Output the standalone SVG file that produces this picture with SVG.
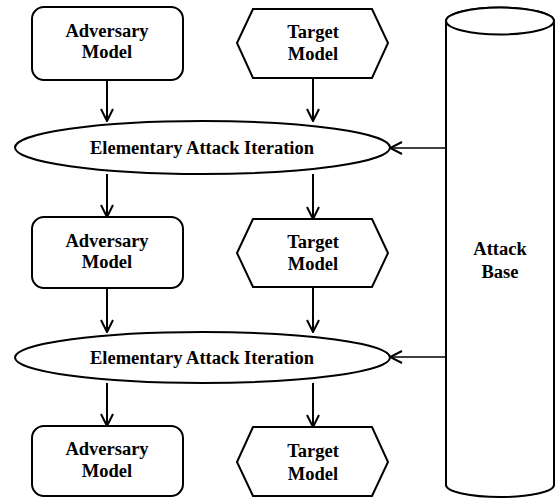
<svg xmlns="http://www.w3.org/2000/svg" width="556" height="498" viewBox="0 0 556 498">
<style>
.shape{fill:#fff;stroke:#000;stroke-width:2}
.lbl{font-family:"Liberation Serif","Times New Roman",serif;font-weight:bold;font-size:18.5px;fill:#000;text-anchor:middle}
.conn{fill:none;stroke:#000;stroke-width:2}
.connh{fill:none;stroke:#000;stroke-width:1.5}
</style>
<defs>
<marker id="arr" viewBox="0 0 14 14" refX="13" refY="7" markerWidth="14" markerHeight="14" markerUnits="userSpaceOnUse" orient="auto">
<path d="M1,1 L13,7 L1,13" fill="none" stroke="#000" stroke-width="2"/>
</marker>
</defs>
<rect width="556" height="498" fill="#fff"/>
<g id="connectors">
<line class="conn" x1="107" y1="80" x2="107" y2="121" marker-end="url(#arr)"/>
<line class="conn" x1="313" y1="78" x2="313" y2="121" marker-end="url(#arr)"/>
<line class="conn" x1="107" y1="174" x2="107" y2="217" marker-end="url(#arr)"/>
<line class="conn" x1="313" y1="174" x2="313" y2="219" marker-end="url(#arr)"/>
<line class="conn" x1="107" y1="288" x2="107" y2="332" marker-end="url(#arr)"/>
<line class="conn" x1="313" y1="287" x2="313" y2="332" marker-end="url(#arr)"/>
<line class="conn" x1="107" y1="383" x2="107" y2="426" marker-end="url(#arr)"/>
<line class="conn" x1="313" y1="383" x2="313" y2="427" marker-end="url(#arr)"/>
<line class="connh" x1="446" y1="148" x2="390" y2="148" marker-end="url(#arr)"/>
<line class="connh" x1="446" y1="357" x2="390" y2="357" marker-end="url(#arr)"/>
</g>
<g id="adversary1">
<rect class="shape" x="32" y="7" width="151" height="73" rx="12"/>
<text class="lbl" x="107" y="37">Adversary</text>
<text class="lbl" x="107" y="58">Model</text>
</g>
<g id="target1">
<polygon class="shape" points="237,43 253,9 372,9 388,43 372,78 253,78"/>
<text class="lbl" x="313" y="38">Target</text>
<text class="lbl" x="313" y="60">Model</text>
</g>
<g id="iteration1">
<ellipse class="shape" cx="202.5" cy="147.5" rx="187.5" ry="26.5"/>
<text class="lbl" x="202" y="153.5">Elementary Attack Iteration</text>
</g>
<g id="adversary2">
<rect class="shape" x="32" y="217" width="151" height="71" rx="12"/>
<text class="lbl" x="107" y="247">Adversary</text>
<text class="lbl" x="107" y="268">Model</text>
</g>
<g id="target2">
<polygon class="shape" points="237,253 253,219 372,219 388,253 372,287 253,287"/>
<text class="lbl" x="313" y="248">Target</text>
<text class="lbl" x="313" y="270">Model</text>
</g>
<g id="iteration2">
<ellipse class="shape" cx="202.5" cy="357.5" rx="187.5" ry="25.5"/>
<text class="lbl" x="202" y="363.5">Elementary Attack Iteration</text>
</g>
<g id="adversary3">
<rect class="shape" x="32" y="426" width="151" height="70" rx="12"/>
<text class="lbl" x="107" y="455">Adversary</text>
<text class="lbl" x="107" y="477">Model</text>
</g>
<g id="target3">
<polygon class="shape" points="237,462 253,427 372,427 388,462 372,496 253,496"/>
<text class="lbl" x="313" y="457">Target</text>
<text class="lbl" x="313" y="480">Model</text>
</g>
<g id="attackbase">
<path class="shape" d="M446,21 L446,485 A54,12 0 0 0 554,485 L554,21 A54,13.5 0 0 0 446,21 Z"/>
<ellipse class="shape" cx="500" cy="21" rx="54" ry="13.5"/>
<text class="lbl" x="500" y="255">Attack</text>
<text class="lbl" x="500" y="278">Base</text>
</g>
</svg>
